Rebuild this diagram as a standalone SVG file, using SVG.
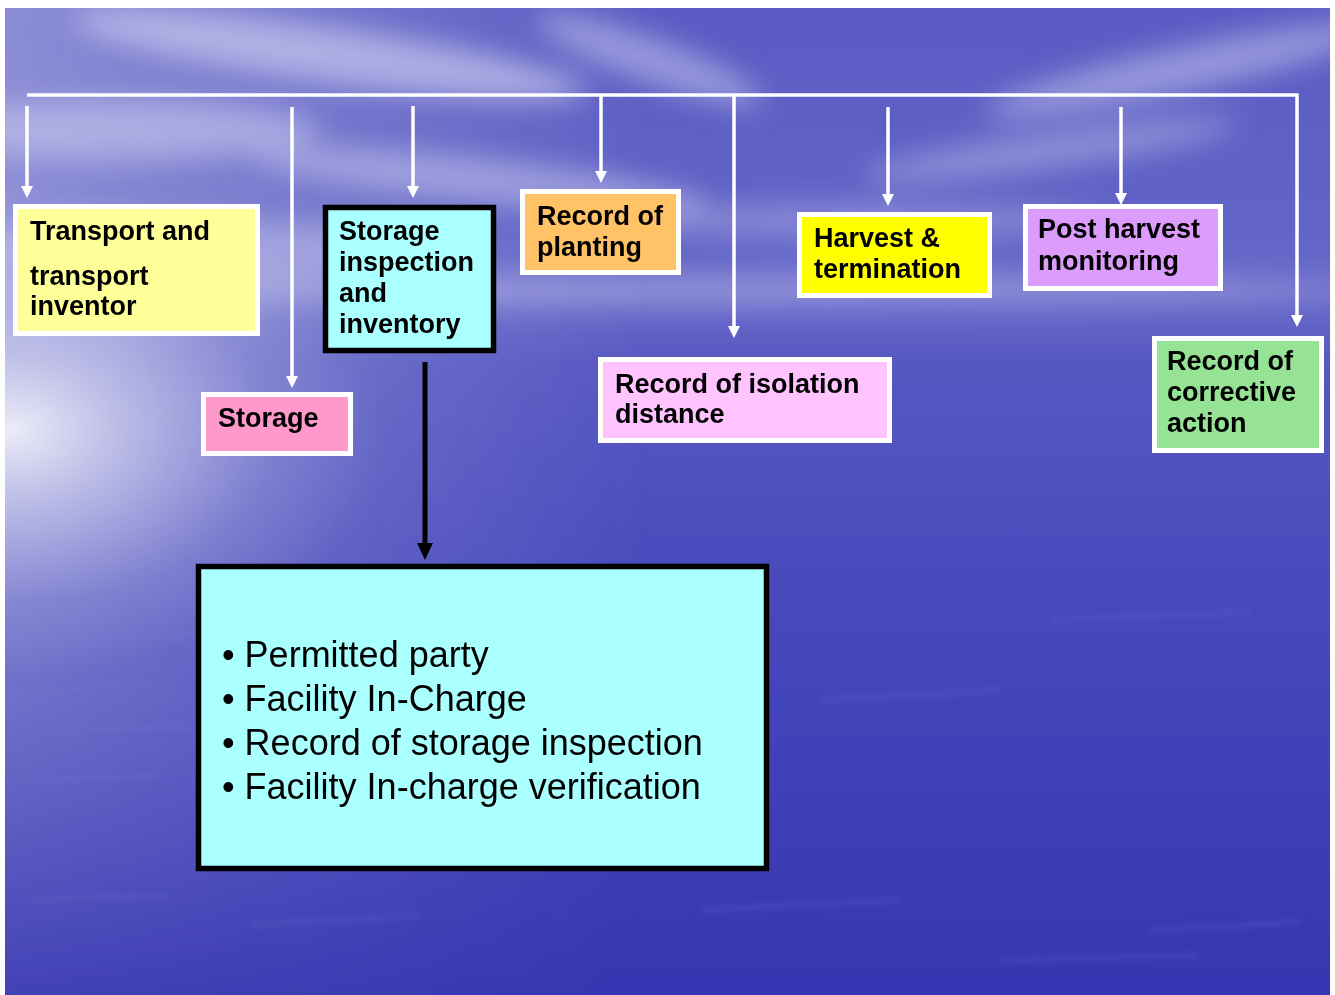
<svg xmlns="http://www.w3.org/2000/svg" width="1335" height="995" viewBox="0 0 1335 995">
  <defs>
    <linearGradient id="skySea" x1="0" y1="8" x2="0" y2="995" gradientUnits="userSpaceOnUse">
      <stop offset="0" stop-color="#5a5cc4"/>
      <stop offset="0.22" stop-color="#6163c6"/>
      <stop offset="0.29" stop-color="#6a6cca"/>
      <stop offset="0.36" stop-color="#5658c2"/>
      <stop offset="0.6" stop-color="#4749bc"/>
      <stop offset="1" stop-color="#3636b2"/>
    </linearGradient>
    <linearGradient id="leftLight" x1="5" y1="0" x2="650" y2="0" gradientUnits="userSpaceOnUse">
      <stop offset="0" stop-color="#ffffff" stop-opacity="0.3"/>
      <stop offset="1" stop-color="#ffffff" stop-opacity="0"/>
    </linearGradient>
    <linearGradient id="leftFade" x1="0" y1="8" x2="0" y2="995" gradientUnits="userSpaceOnUse">
      <stop offset="0" stop-color="#ffffff" stop-opacity="1"/>
      <stop offset="0.7" stop-color="#ffffff" stop-opacity="0.8"/>
      <stop offset="1" stop-color="#ffffff" stop-opacity="0.2"/>
    </linearGradient>
    <mask id="leftMask">
      <rect x="5" y="8" width="1325" height="987" fill="url(#leftFade)"/>
    </mask>
    <radialGradient id="sunGlow" cx="10" cy="430" r="1" gradientUnits="userSpaceOnUse"
                    gradientTransform="translate(10 430) scale(380 250) translate(-10 -430)">
      <stop offset="0" stop-color="#ffffff" stop-opacity="0.85"/>
      <stop offset="0.3" stop-color="#f0f0fa" stop-opacity="0.55"/>
      <stop offset="0.7" stop-color="#e8e8f8" stop-opacity="0.15"/>
      <stop offset="1" stop-color="#ffffff" stop-opacity="0"/>
    </radialGradient>
    <filter id="soft" x="-50%" y="-50%" width="200%" height="200%">
      <feGaussianBlur stdDeviation="14"/>
    </filter>
    <filter id="softer" x="-50%" y="-200%" width="200%" height="500%">
      <feGaussianBlur stdDeviation="3"/>
    </filter>
    <clipPath id="slide">
      <rect x="5" y="8" width="1325" height="987"/>
    </clipPath>
    <marker id="whiteHead" viewBox="0 0 12 12" markerWidth="12" markerHeight="12"
            refX="4" refY="6" orient="auto" markerUnits="userSpaceOnUse">
      <path d="M0,0 L12,6 L0,12 Z" fill="#ffffff"/>
    </marker>
    <marker id="blackHead" viewBox="0 0 17 16" markerWidth="17" markerHeight="16"
            refX="5" refY="8" orient="auto" markerUnits="userSpaceOnUse">
      <path d="M0,0 L17,8 L0,16 Z" fill="#000000"/>
    </marker>
    <style>
      .box { stroke: #ffffff; stroke-width: 5; }
      .boxDark { stroke: #000000; stroke-width: 5.5; }
      .label { font-family: "Liberation Sans", Arial, sans-serif; font-weight: bold; font-size: 27px; fill: #000000; }
      .bullets { font-family: "Liberation Sans", Arial, sans-serif; font-size: 36px; fill: #000000; }
      .wire { fill: none; stroke: #ffffff; stroke-width: 3.5; }
      .wireDark { fill: none; stroke: #000000; stroke-width: 5; }
    </style>
  </defs>

  <!-- page and background picture -->
  <rect x="0" y="0" width="1335" height="995" fill="#ffffff"/>
  <g id="background" clip-path="url(#slide)">
    <rect x="5" y="8" width="1325" height="987" fill="url(#skySea)"/>
    <rect x="5" y="8" width="1325" height="987" fill="url(#leftLight)" mask="url(#leftMask)"/>
    <!-- clouds -->
    <g filter="url(#soft)" fill="#c8c8ee">
      <ellipse cx="330" cy="55" rx="260" ry="28" transform="rotate(8 330 55)" opacity="0.7"/>
      <ellipse cx="120" cy="130" rx="200" ry="30" opacity="0.6"/>
      <ellipse cx="480" cy="180" rx="230" ry="22" transform="rotate(6 480 180)" opacity="0.55"/>
      <ellipse cx="650" cy="60" rx="120" ry="22" transform="rotate(20 650 60)" opacity="0.55"/>
      <ellipse cx="1180" cy="70" rx="200" ry="22" transform="rotate(-12 1180 70)" opacity="0.55"/>
      <ellipse cx="1050" cy="150" rx="190" ry="18" transform="rotate(-8 1050 150)" opacity="0.45"/>
      <ellipse cx="850" cy="220" rx="260" ry="16" opacity="0.4"/>
      <ellipse cx="670" cy="290" rx="700" ry="14" opacity="0.45"/>
      <ellipse cx="200" cy="250" rx="250" ry="30" opacity="0.5"/>
    </g>
    <!-- light on the water -->
    <rect x="5" y="8" width="1325" height="987" fill="url(#sunGlow)"/>
    <g filter="url(#softer)" stroke="#7c7ed6" stroke-width="3" opacity="0.35" fill="none">
      <path d="M20,600 L180,596"/>
      <path d="M40,640 L220,634"/>
      <path d="M15,690 L150,686"/>
      <path d="M60,730 L190,726"/>
      <path d="M20,780 L160,776"/>
      <path d="M30,900 L170,896"/>
      <path d="M250,925 L420,915"/>
      <path d="M700,910 L900,900"/>
      <path d="M1150,930 L1300,922"/>
      <path d="M1000,960 L1200,955"/>
      <path d="M820,700 L1000,690"/>
      <path d="M1050,620 L1250,612"/>
    </g>
  </g>

  <!-- connectors -->
  <g id="connectors">
    <path class="wire" d="M27,95 H1297 V319" marker-end="url(#whiteHead)"/>
    <path class="wire" d="M27,106 V190" marker-end="url(#whiteHead)"/>
    <path class="wire" d="M292,107 V380" marker-end="url(#whiteHead)"/>
    <path class="wire" d="M413,106 V190" marker-end="url(#whiteHead)"/>
    <path class="wire" d="M601,95 V175" marker-end="url(#whiteHead)"/>
    <path class="wire" d="M734,95 V330" marker-end="url(#whiteHead)"/>
    <path class="wire" d="M888,107 V198" marker-end="url(#whiteHead)"/>
    <path class="wire" d="M1121,107 V197" marker-end="url(#whiteHead)"/>
    <path class="wireDark" d="M425,362 V548" marker-end="url(#blackHead)"/>
  </g>

  <g id="transport">
    <rect class="box" x="15.5" y="206.5" width="242" height="127" fill="#ffff99"/>
    <text class="label" x="30" y="240">Transport and</text>
    <text class="label" x="30" y="285">transport</text>
    <text class="label" x="30" y="315">inventor</text>
  </g>

  <g id="storage">
    <rect class="box" x="203.5" y="394.5" width="147" height="59" fill="#ff99cc"/>
    <text class="label" x="218" y="427">Storage</text>
  </g>

  <g id="storage-inspection">
    <rect class="boxDark" x="325.5" y="207.5" width="168" height="143" fill="#aaffff"/>
    <text class="label" x="339" y="240">Storage</text>
    <text class="label" x="339" y="271">inspection</text>
    <text class="label" x="339" y="302">and</text>
    <text class="label" x="339" y="333">inventory</text>
  </g>

  <g id="planting">
    <rect class="box" x="522.5" y="191.5" width="156" height="81" fill="#ffc266"/>
    <text class="label" x="537" y="225">Record of</text>
    <text class="label" x="537" y="256">planting</text>
  </g>

  <g id="isolation">
    <rect class="box" x="600.5" y="359.5" width="289" height="81" fill="#ffc4ff"/>
    <text class="label" x="615" y="393">Record of isolation</text>
    <text class="label" x="615" y="423">distance</text>
  </g>

  <g id="harvest">
    <rect class="box" x="799.5" y="214.5" width="190" height="81" fill="#ffff00"/>
    <text class="label" x="814" y="247">Harvest &amp;</text>
    <text class="label" x="814" y="278">termination</text>
  </g>

  <g id="post-harvest">
    <rect class="box" x="1025.5" y="206.5" width="195" height="82" fill="#dc9cfc"/>
    <text class="label" x="1038" y="238">Post harvest</text>
    <text class="label" x="1038" y="270">monitoring</text>
  </g>

  <g id="corrective">
    <rect class="box" x="1154.5" y="338.5" width="167" height="112" fill="#96e396"/>
    <text class="label" x="1167" y="370">Record of</text>
    <text class="label" x="1167" y="401">corrective</text>
    <text class="label" x="1167" y="432">action</text>
  </g>

  <g id="details">
    <rect class="boxDark" x="198.5" y="566.5" width="568" height="302" fill="#aaffff"/>
    <text class="bullets" x="222" y="667">• Permitted party</text>
    <text class="bullets" x="222" y="711">• Facility In-Charge</text>
    <text class="bullets" x="222" y="755">• Record of storage inspection</text>
    <text class="bullets" x="222" y="799">• Facility In-charge verification</text>
  </g>
</svg>
